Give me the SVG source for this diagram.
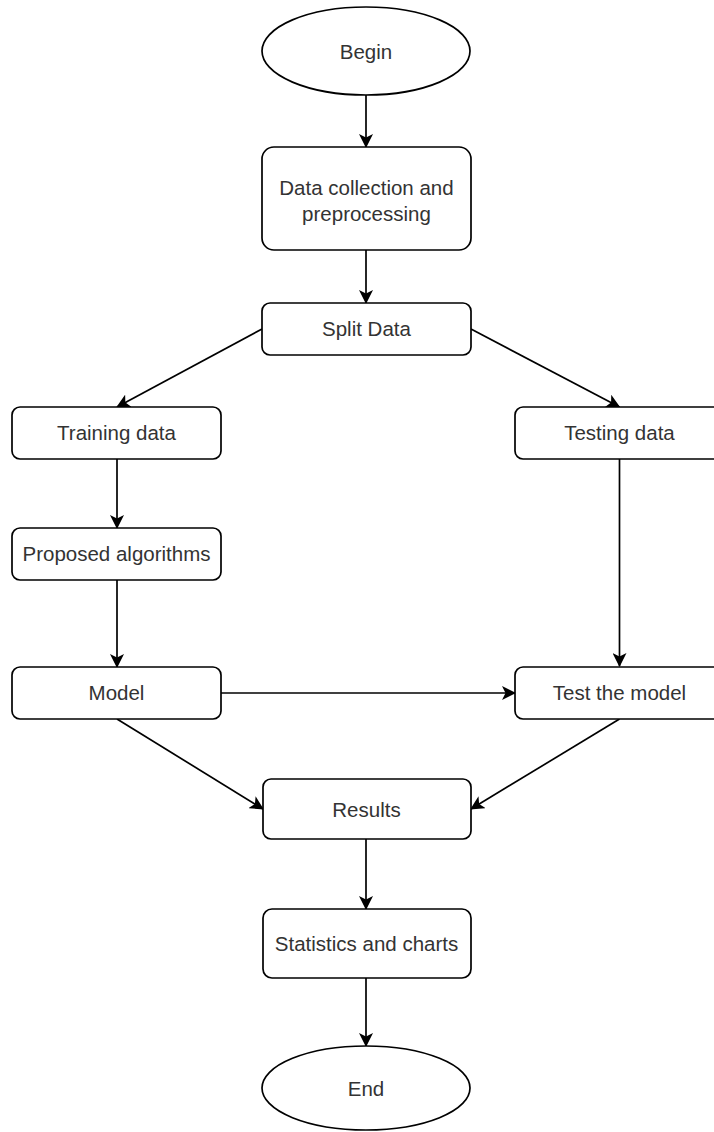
<svg xmlns="http://www.w3.org/2000/svg" width="714" height="1132" viewBox="0 0 714 1132">
<style>
.n{fill:#fff;stroke:#000;stroke-width:1.7}
.t{font-family:"Liberation Sans",Arial,sans-serif;font-size:20.5px;fill:#333;text-anchor:middle}
.c{fill:none;stroke:#000;stroke-width:1.7;marker-end:url(#arr)}
</style>
<defs>
<marker id="arr" markerUnits="userSpaceOnUse" markerWidth="14" markerHeight="14" refX="13" refY="7" orient="auto">
<path d="M0,0 L14,7 L0,14 L3.5,7 z" fill="#000"/>
</marker>
</defs>
<rect width="714" height="1132" fill="#fff"/>
<g id="connectors">
<line class="c" x1="366" y1="95" x2="366" y2="147"/>
<line class="c" x1="366" y1="250" x2="366" y2="303"/>
<line class="c" x1="262" y1="329" x2="117" y2="407"/>
<line class="c" x1="471" y1="329" x2="619.5" y2="407"/>
<line class="c" x1="117" y1="459" x2="117" y2="528"/>
<line class="c" x1="117" y1="580" x2="117" y2="667"/>
<line class="c" x1="619.5" y1="459" x2="619.5" y2="666"/>
<line class="c" x1="221" y1="693" x2="515" y2="693"/>
<line class="c" x1="117" y1="719" x2="263" y2="809"/>
<line class="c" x1="619.5" y1="719" x2="471" y2="809"/>
<line class="c" x1="366" y1="839" x2="366" y2="909"/>
<line class="c" x1="366" y1="978" x2="366" y2="1046"/>
</g>
<g id="begin"><ellipse class="n" cx="366" cy="51" rx="104" ry="44"/><text class="t" x="366" y="58.5">Begin</text></g>
<g id="data-collection"><rect class="n" x="262" y="147" width="209" height="103" rx="12"/><text class="t" x="366.5" y="194.5">Data collection and</text><text class="t" x="366.5" y="220.5">preprocessing</text></g>
<g id="split-data"><rect class="n" x="262" y="303" width="209" height="52" rx="8"/><text class="t" x="366.5" y="336">Split Data</text></g>
<g id="training-data"><rect class="n" x="12" y="407" width="209" height="52" rx="8"/><text class="t" x="116.5" y="440">Training data</text></g>
<g id="testing-data"><rect class="n" x="515" y="407" width="209" height="52" rx="8"/><text class="t" x="619.5" y="440">Testing data</text></g>
<g id="proposed-algorithms"><rect class="n" x="12" y="528" width="209" height="52" rx="8"/><text class="t" x="116.5" y="561">Proposed algorithms</text></g>
<g id="model"><rect class="n" x="12" y="667" width="209" height="52" rx="8"/><text class="t" x="116.5" y="700">Model</text></g>
<g id="test-model"><rect class="n" x="515" y="667" width="209" height="52" rx="8"/><text class="t" x="619.5" y="700">Test the model</text></g>
<g id="results"><rect class="n" x="263" y="779" width="208" height="60" rx="8"/><text class="t" x="366.5" y="816.5">Results</text></g>
<g id="statistics"><rect class="n" x="263" y="909" width="208" height="69" rx="9"/><text class="t" x="366.5" y="950.5">Statistics and charts</text></g>
<g id="end"><ellipse class="n" cx="366" cy="1088" rx="104" ry="42"/><text class="t" x="366" y="1095.5">End</text></g>
</svg>
